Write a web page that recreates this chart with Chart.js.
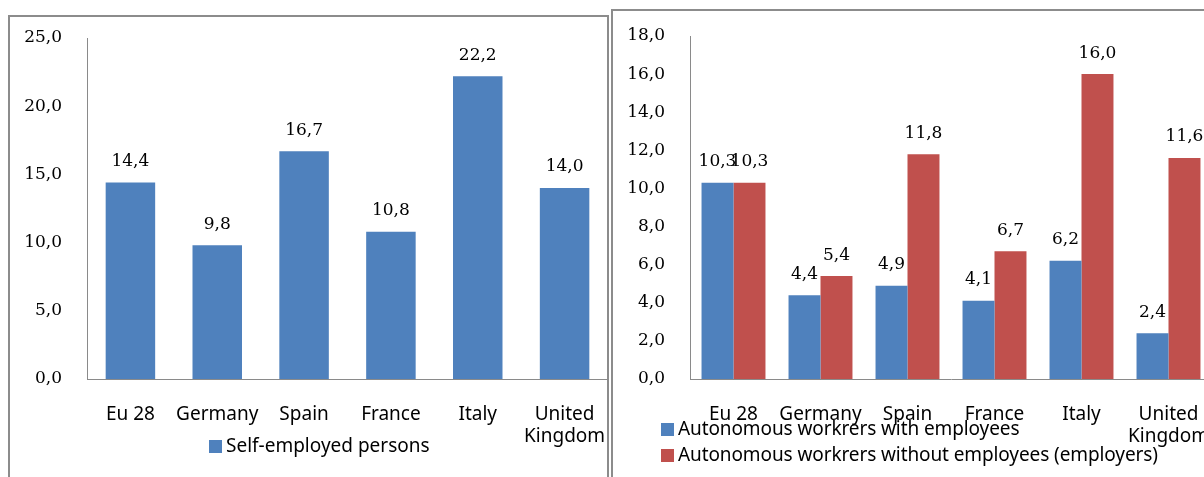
<!DOCTYPE html>
<html>
<head>
<meta charset="utf-8">
<title>Self-employment</title>
<script src="https://cdn.jsdelivr.net/npm/chart.js@4.4.1/dist/chart.umd.min.js"></script>
<style>
  html, body { margin: 0; padding: 0; background: #fff; }
  body { position: relative; width: 1204px; height: 477px; overflow: hidden; }
  .frame { position: absolute; box-sizing: border-box; border: 2px solid #8c8c8c; background: #fff; }
  #frameLeft { left: 8px; top: 15px; width: 601px; height: 490px; }
  #frameRight { left: 611px; top: 9px; width: 640px; height: 490px; }
  canvas { position: absolute; }
  #selfChart { left: 10px; top: 17px; }
  #autoChart { left: 613px; top: 11px; }
  .legend { position: absolute; font: 19px "Noto Sans", sans-serif; color: #000; white-space: nowrap; }
  .legend div { height: 26px; line-height: 26px; }
  .legend i { display: inline-block; width: 13px; height: 13px; margin-right: 4px; vertical-align: -1px; }
  #selfLegend { left: 209px; top: 432px; }
  #autoLegend { left: 661px; top: 415px; letter-spacing: -0.1px; }
</style>
</head>
<body>
<div class="frame" id="frameLeft"></div>
<div class="frame" id="frameRight"></div>
<canvas id="selfChart" width="598" height="460"></canvas>
<canvas id="autoChart" width="610" height="466"></canvas>
<div class="legend" id="selfLegend"></div>
<div class="legend" id="autoLegend"></div>
<script>
// Datos (%)
const countries = ['Eu 28', 'Germany', 'Spain', 'France', 'Italy', ['United', 'Kingdom']];
const selfEmployed = [14.4, 9.8, 16.7, 10.8, 22.2, 14.0];
const withEmployees = [10.3, 4.4, 4.9, 4.1, 6.2, 2.4];
const withoutEmployees = [10.3, 5.4, 11.8, 6.7, 16.0, 11.6];
const selfAxis = { max: 25, step: 5 };
const autoAxis = { max: 18, step: 2 };

const blue = '#4F81BD';
const red = '#C0504D';
const axisGray = '#8a8a8a';
const serif = '"DejaVu Serif", "Liberation Serif", serif';

Chart.defaults.font.family = '"Noto Sans", sans-serif';
Chart.defaults.color = '#000';

// 14.4 -> "14,4"
const fmt = v => Number(v).toFixed(1).replace('.', ',');

// etiquetas de valor encima de cada barra
const valueLabels = {
    id: 'valueLabels',
    afterDatasetsDraw(chart) {
        const ctx = chart.ctx;
        ctx.save();
        ctx.font = '17px ' + serif;
        ctx.fillStyle = '#000';
        ctx.textAlign = 'center';
        ctx.textBaseline = 'middle';
        chart.data.datasets.forEach((ds, i) => {
            chart.getDatasetMeta(i).data.forEach((bar, j) => {
                ctx.fillText(fmt(ds.data[j]), bar.x, bar.y - 21);
            });
        });
        ctx.restore();
    }
};

// leyenda en HTML (se solapa con las etiquetas del eje x, como en el original)
function htmlLegend(chart, id) {
    const box = document.getElementById(id);
    chart.data.datasets.forEach(ds => {
        const row = document.createElement('div');
        const sw = document.createElement('i');
        sw.style.background = ds.backgroundColor;
        row.appendChild(sw);
        row.appendChild(document.createTextNode(ds.label));
        box.appendChild(row);
    });
}

function buildOptions(axis, cfg) {
    return {
        responsive: false,
        animation: false,
        devicePixelRatio: 1,
        layout: { padding: cfg.padding },
        plugins: {
            tooltip: { enabled: false },
            legend: { display: false }
        },
        scales: {
            x: {
                // tickLength sirve de separación; las marcas no se dibujan
                grid: { display: false, drawTicks: true, tickLength: 25 },
                border: { color: axisGray, width: 1 },
                ticks: { padding: 0, font: { size: 19, lineHeight: 1.15 }, color: '#000', maxRotation: 0, autoSkip: false },
                afterFit: s => { s.height = cfg.xHeight; }
            },
            y: {
                min: 0,
                max: axis.max,
                grid: { display: false, drawTicks: true, tickLength: 25 },
                border: { color: axisGray, width: 1 },
                ticks: {
                    stepSize: axis.step,
                    padding: 0,
                    color: '#000',
                    font: { family: serif, size: 17 },
                    callback: v => fmt(v)
                },
                afterFit: s => { s.width = cfg.yWidth; }
            }
        }
    };
}

const selfChart = new Chart(document.getElementById('selfChart'), {
    type: 'bar',
    data: {
        labels: countries,
        datasets: [{
            label: 'Self-employed persons',
            data: selfEmployed,
            backgroundColor: blue,
            categoryPercentage: 1,
            barPercentage: 0.57
        }]
    },
    options: buildOptions(selfAxis, {
        padding: { left: 0, top: 21, right: 0, bottom: 0 },
        xHeight: 98,
        yWidth: 77
    }),
    plugins: [valueLabels]
});

const autoChart = new Chart(document.getElementById('autoChart'), {
    type: 'bar',
    data: {
        labels: countries,
        datasets: [{
            label: 'Autonomous workrers with employees',
            data: withEmployees,
            backgroundColor: blue,
            categoryPercentage: 0.735,
            barPercentage: 1
        }, {
            label: 'Autonomous workrers without employees (employers)',
            data: withoutEmployees,
            backgroundColor: red,
            categoryPercentage: 0.735,
            barPercentage: 1
        }]
    },
    options: buildOptions(autoAxis, {
        padding: { left: 0, top: 25, right: 11, bottom: 0 },
        xHeight: 98,
        yWidth: 77
    }),
    plugins: [valueLabels]
});

htmlLegend(selfChart, 'selfLegend');
htmlLegend(autoChart, 'autoLegend');
</script>
</body>
</html>
